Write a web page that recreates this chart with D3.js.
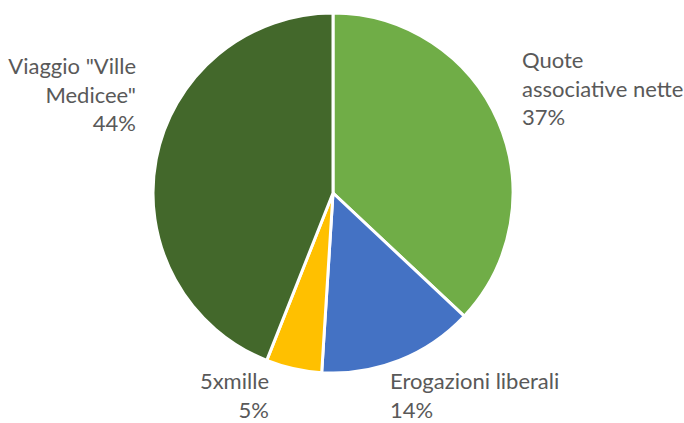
<!DOCTYPE html>
<html>
<head>
<meta charset="utf-8">
<script src="https://cdn.jsdelivr.net/npm/d3@7"></script>
<style>
  html, body { margin: 0; padding: 0; background: #ffffff; }
  svg { display: block; }
</style>
</head>
<body>
<svg id="chart" width="684" height="423"></svg>
<script>
// ---- data ----
const categories = ["Quote associative nette", "Erogazioni liberali", "5xmille", "Viaggio \"Ville Medicee\""];
const values = [37, 14, 5, 44];
const colors = ["#70AD47", "#4472C4", "#FFC000", "#43682B"];
const labelLines = [
  ["Quote", "associative nette"],
  ["Erogazioni liberali"],
  ["5xmille"],
  ["Viaggio \"Ville", "Medicee\""]
];

// ---- layout ----
const W = 684, H = 423;
const cx = 333, cy = 193, R = 180;
const fontFamily = "Lato, 'Open Sans', sans-serif";
const fontSize = 22;
const lineH = 28.5;
// label anchors: [x, first baseline y, text-anchor]
const labelPos = [
  [522, 68, "start"],
  [390, 389, "start"],
  [269, 389, "end"],
  [136, 74, "end"]
];

const svg = d3.select("#chart");
const total = d3.sum(values);
const data = categories.map((c, i) => ({ cat: c, value: values[i], color: colors[i], lines: labelLines[i] }));

const pie = d3.pie().sort(null).value(d => d.value);
const arc = d3.arc().innerRadius(0).outerRadius(R);

const g = svg.append("g").attr("transform", `translate(${cx},${cy})`);
g.selectAll("path")
  .data(pie(data))
  .join("path")
  .attr("d", arc)
  .attr("fill", d => d.data.color)
  .attr("stroke", "#ffffff")
  .attr("stroke-width", 3)
  .attr("stroke-linejoin", "round");

const fmt = d3.format(".0%");
const labels = svg.append("g")
  .attr("font-family", fontFamily)
  .attr("font-size", fontSize)
  .attr("fill", "#595959");

data.forEach((d, i) => {
  const [x, y, anchor] = labelPos[i];
  const lines = d.lines.concat([fmt(d.value / total)]);
  const t = labels.append("text")
    .attr("text-anchor", anchor);
  lines.forEach((ln, k) => {
    t.append("tspan").attr("x", x).attr("y", y + k * lineH).text(ln);
  });
});
</script>
</body>
</html>
